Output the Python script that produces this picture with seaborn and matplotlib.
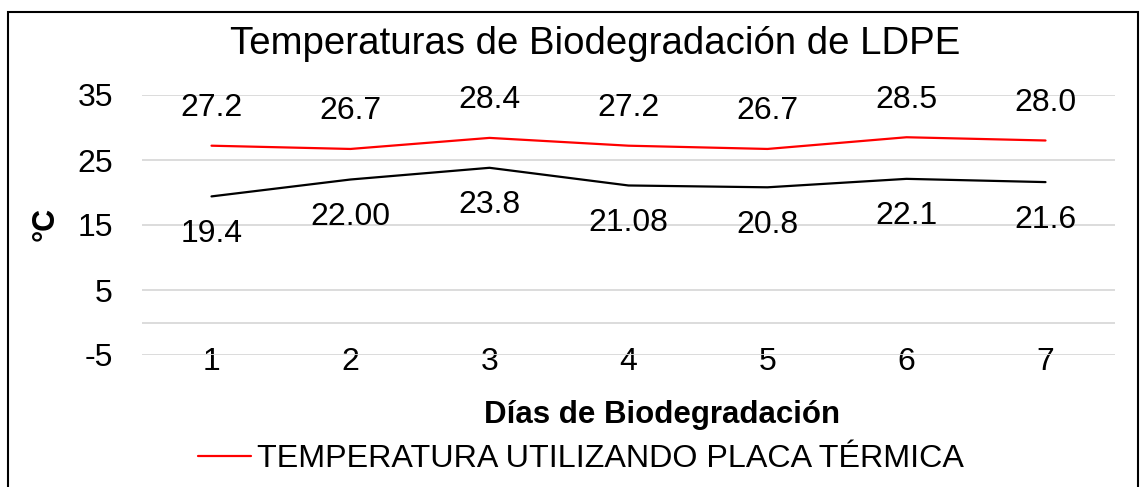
import pandas as pd
import matplotlib
matplotlib.use("Agg")
import matplotlib.pyplot as plt
from matplotlib.patches import Rectangle
import seaborn as sns

# data
dias = [1, 2, 3, 4, 5, 6, 7]
temp_placa = [27.2, 26.7, 28.4, 27.2, 26.7, 28.5, 28.0]
temp_placa_lbl = ["27.2", "26.7", "28.4", "27.2", "26.7", "28.5", "28.0"]
temp_ambiente = [19.4, 22.00, 23.8, 21.08, 20.8, 22.1, 21.6]
temp_ambiente_lbl = ["19.4", "22.00", "23.8", "21.08", "20.8", "22.1", "21.6"]
y_ticks = [-5, 5, 15, 25, 35]

sns.set_style("white")
plt.rcParams["font.family"] = ["Liberation Sans", "DejaVu Sans"]
plt.rcParams["axes.unicode_minus"] = False
plt.rcParams["text.color"] = "black"
plt.rcParams["xtick.color"] = "black"
plt.rcParams["ytick.color"] = "black"

df = pd.DataFrame({"dia": dias, "placa": temp_placa, "ambiente": temp_ambiente})

W, H = 1148, 487
fig = plt.figure(figsize=(W / 100, H / 100), dpi=100)
ax = fig.add_axes([142 / W, 1 - 355 / H, (1115 - 142) / W, (355 - 95) / H])

sns.lineplot(data=df, x="dia", y="placa", ax=ax, color="#ff0000", linewidth=1.6,
             label="TEMPERATURA UTILIZANDO PLACA TÉRMICA", legend=False)
sns.lineplot(data=df, x="dia", y="ambiente", ax=ax, color="black", linewidth=1.6,
             label="_nolegend_", legend=False)

# data labels
for x, y, t in zip(dias, temp_placa, temp_placa_lbl):
    ax.annotate(t, (x, y), xytext=(0, 27), textcoords="offset points",
                ha="center", va="center", fontsize=23)
for x, y, t in zip(dias, temp_ambiente, temp_ambiente_lbl):
    ax.annotate(t, (x, y), xytext=(0, -27), textcoords="offset points",
                ha="center", va="center", fontsize=23)

ax.set_xlim(0.5, 7.5)
ax.set_ylim(-5, 35)
ax.set_yticks(y_ticks)
ax.set_xticks(dias)
ax.set_xticklabels([str(d) for d in dias])
ax.grid(axis="y", color="#d9d9d9", linewidth=1.3)
ax.axhline(0, color="#d9d9d9", linewidth=1.3, zorder=0)
ax.set_axisbelow(True)
for s in ax.spines.values():
    s.set_visible(False)
ax.tick_params(axis="y", length=0, pad=21, labelsize=23)
ax.tick_params(axis="x", length=0, pad=-6, labelsize=23)
ax.set_xlabel("")
ax.set_ylabel("")

fig.text(46 / W, 1 - 224 / H, "°C", rotation=90, ha="center", va="center",
         fontsize=22, fontweight="bold")
fig.text(595 / W, 1 - 44 / H, "Temperaturas de Biodegradación de LDPE",
         ha="center", va="center", fontsize=27.6)
fig.text(662 / W, 1 - 415 / H, "Días de Biodegradación",
         ha="center", va="center", fontsize=22.5, fontweight="bold")

handles, labels = ax.get_legend_handles_labels()
fig.legend(handles, labels, loc="center", bbox_to_anchor=(581 / W, 1 - 459 / H),
           frameon=False, fontsize=23.2, handlelength=1.65, handletextpad=0.2,
           borderpad=0, borderaxespad=0)

fig.add_artist(Rectangle((8 / W, -0.05), (1138 - 8) / W, 1.05 - 12 / H,
                         transform=fig.transFigure, fill=False,
                         edgecolor="black", linewidth=1.5))

fig.savefig("out.png", dpi=100)
